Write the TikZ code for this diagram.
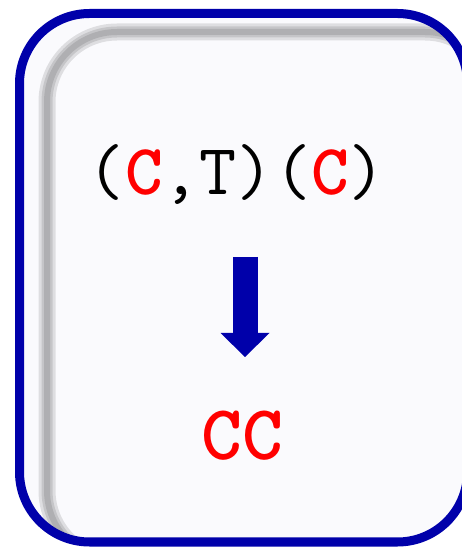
\documentclass[tikz,border=0pt]{standalone}
\usepackage{fontspec}
\usetikzlibrary{arrows.meta}
\definecolor{boxblue}{RGB}{0,0,170}
\definecolor{boxfill}{RGB}{250,250,253}
\definecolor{hlred}{RGB}{255,0,0}
\newcommand{\hlbase}[1]{\textcolor{hlred}{\bfseries #1}}

\begin{document}
\begin{tikzpicture}[
    x=1pt, y=1pt,
    frame/.style={
        draw=boxblue,
        line width=9pt,
        fill=boxfill,
        rounded corners=70pt
    },
    innershade/.style={draw=black, opacity=0.11, rounded corners=70pt},
    seqtext/.style={
        font=\ttfamily\fontsize{72}{76}\selectfont,
        anchor=base,
        inner sep=0pt
    },
    restext/.style={
        font=\ttfamily\bfseries\fontsize{78}{82}\selectfont,
        text=hlred,
        anchor=base,
        inner sep=0pt
    },
    blockarrow/.style={
        -{Triangle[width=49pt, length=24pt, line width=0pt 0]},
        line width=25pt,
        draw=boxblue
    }
]
\useasboundingbox (0,0) rectangle (462,547);

% Frame with inner shadow
\begin{scope}
    \clip (0,0) rectangle (462,547);
    \draw[frame] (19.5,5) rectangle (467.5,533.5);
    \begin{scope}
        \clip[rounded corners=65.5pt] (24,9.5) rectangle (463,529);
        \foreach \w in {17,11,6}
            \draw[innershade, line width=\w pt] (47,-13.5) rectangle (495,515);
    \end{scope}
\end{scope}

% Sequence and result
\node[seqtext] (seq) at (237,352) {(\hlbase{C},T)(\hlbase{C})};
\node[restext] (res) at (242,87) {CC};

% Arrow
\draw[blockarrow] ([xshift=8pt, yshift=-62pt]seq.base) -- ([xshift=3pt, yshift=103pt]res.base);

\end{tikzpicture}
\end{document}
